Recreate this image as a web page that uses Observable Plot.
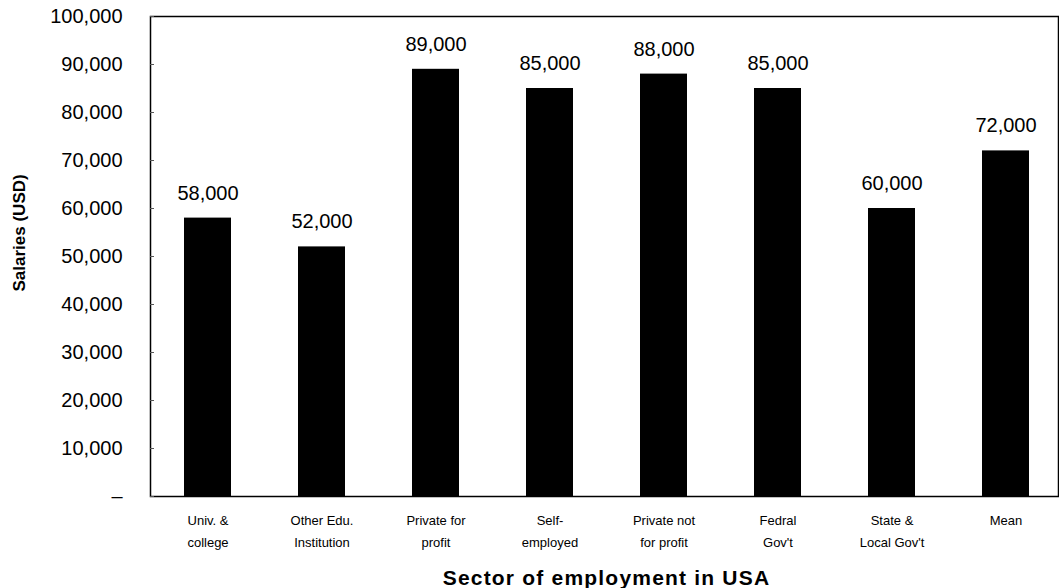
<!DOCTYPE html>
<html>
<head>
<meta charset="utf-8">
<script src="https://cdn.jsdelivr.net/npm/d3@7"></script>
<script src="https://cdn.jsdelivr.net/npm/@observablehq/plot@0.6"></script>
<style>
  html, body { margin: 0; padding: 0; background: #fff; }
  svg { display: block; }
  .xtitle text { letter-spacing: 1.2px; }
</style>
</head>
<body>
<div id="chart"></div>
<script>
const sectors = [
  "Univ. &\ncollege",
  "Other Edu.\nInstitution",
  "Private for\nprofit",
  "Self-\nemployed",
  "Private not\nfor profit",
  "Fedral\nGov't",
  "State &\nLocal Gov't",
  "Mean"
];
const salaries = [58000, 52000, 89000, 85000, 88000, 85000, 60000, 72000];
const yTicks = [0, 10000, 20000, 30000, 40000, 50000, 60000, 70000, 80000, 90000, 100000];
const yTitle = "Salaries (USD)";
const xTitle = "Sector of employment in USA";

const data = sectors.map((s, i) => ({sector: s, salary: salaries[i]}));
const fmt = d3.format(",");
const font = "'Liberation Sans', Arial, sans-serif";

const chart = Plot.plot({
  width: 1059,
  height: 588,
  marginLeft: 150,
  marginRight: 1,
  marginTop: 16,
  marginBottom: 92,
  style: {fontFamily: font, background: "#fff", color: "#000"},
  x: {domain: sectors, range: [150, 1062], paddingInner: 0.59, paddingOuter: 0.295},
  y: {domain: [0, 100000]},
  marks: [
    Plot.barY(data, {x: "sector", y: "salary", fill: "#000"}),
    Plot.frame({stroke: "#000", strokeWidth: 1.5}),
    Plot.axisY({ticks: yTicks, tickSize: 0, tickPadding: 28, fontSize: 20,
      tickFormat: d => d === 0 ? "–" : fmt(d), label: null}),
    Plot.axisY({ticks: yTicks, tickSize: 4, dx: 4, tickFormat: () => "", label: null, stroke: "#555"}),
    Plot.axisX({tickSize: 0, tickPadding: 12, fontSize: 13, lineHeight: 1.75, label: null}),
    Plot.text(data, {x: "sector", y: "salary", text: d => fmt(d.salary), dy: -25,
      lineAnchor: "middle", fontSize: 20, fill: "#000"}),
    Plot.text([yTitle], {frameAnchor: "left", text: d => d, rotate: -90, dx: -131, dy: 35,
      fontSize: 17, fontWeight: "bold", fill: "#000"}),
    Plot.text([xTitle], {frameAnchor: "bottom", text: d => d, dy: 82, dx: 2,
      fontSize: 21, fontWeight: "bold", fill: "#000", lineAnchor: "middle", className: "xtitle"})
  ]
});
document.getElementById("chart").appendChild(chart);
</script>
</body>
</html>
